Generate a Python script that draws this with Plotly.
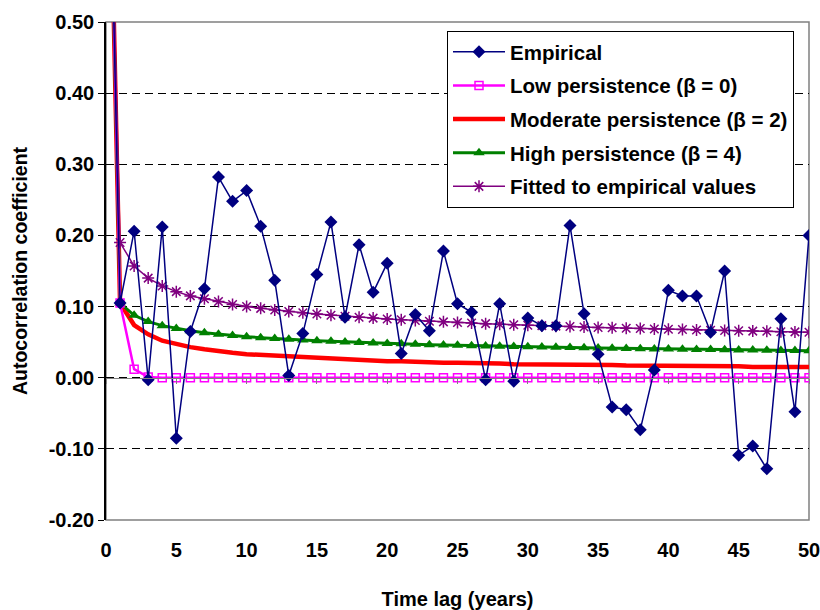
import plotly.graph_objects as go

lags = list(range(0, 51))

empirical = [1.0, 0.105, 0.206, -0.003, 0.212, -0.085, 0.065, 0.125, 0.282, 0.248,
             0.263, 0.213, 0.137, 0.003, 0.062, 0.145, 0.219, 0.085, 0.187, 0.120,
             0.161, 0.034, 0.089, 0.066, 0.178, 0.104, 0.092, -0.003, 0.104, -0.005,
             0.084, 0.073, 0.073, 0.214, 0.090, 0.033, -0.041, -0.045, -0.073, 0.011,
             0.123, 0.115, 0.115, 0.064, 0.150, -0.109, -0.096, -0.128, 0.083, -0.048,
             0.200]

low_persistence = [1.0, 0.105, 0.012, 0.001] + [0.0] * 47

moderate_persistence = [1.0, 0.105, 0.074, 0.061, 0.052, 0.047, 0.043, 0.040, 0.037, 0.035,
                        0.033, 0.032, 0.030, 0.029, 0.028, 0.027, 0.026, 0.025, 0.025, 0.024,
                        0.023, 0.023, 0.022, 0.022, 0.021, 0.021, 0.021, 0.020, 0.020, 0.019,
                        0.019, 0.019, 0.019, 0.018, 0.018, 0.018, 0.018, 0.017, 0.017, 0.017,
                        0.017, 0.016, 0.016, 0.016, 0.016, 0.016, 0.015, 0.015, 0.015, 0.015,
                        0.015]

high_persistence = [1.0, 0.105, 0.0877, 0.0789, 0.0732, 0.0691, 0.0659, 0.0633, 0.0612, 0.0593,
                    0.0577, 0.0563, 0.0550, 0.0539, 0.0529, 0.0519, 0.0511, 0.0503, 0.0495, 0.0488,
                    0.0482, 0.0476, 0.0470, 0.0465, 0.0460, 0.0455, 0.0450, 0.0446, 0.0442, 0.0438,
                    0.0434, 0.0430, 0.0427, 0.0423, 0.0420, 0.0417, 0.0414, 0.0411, 0.0408, 0.0405,
                    0.0402, 0.0400, 0.0397, 0.0395, 0.0393, 0.0390, 0.0388, 0.0386, 0.0384, 0.0382,
                    0.0380]

fitted = [1.0, 0.190, 0.157, 0.140, 0.129, 0.121, 0.115, 0.111, 0.107, 0.103,
          0.100, 0.0975, 0.0952, 0.0931, 0.0912, 0.0895, 0.0879, 0.0865, 0.0851, 0.0838,
          0.0826, 0.0815, 0.0805, 0.0795, 0.0785, 0.0777, 0.0768, 0.0760, 0.0752, 0.0745,
          0.0738, 0.0732, 0.0725, 0.0719, 0.0713, 0.0707, 0.0701, 0.0696, 0.0691, 0.0686,
          0.0681, 0.0677, 0.0672, 0.0668, 0.0663, 0.0659, 0.0655, 0.0652, 0.0647, 0.0644,
          0.0640]

y_ticks = [-0.2, -0.1, 0.0, 0.1, 0.2, 0.3, 0.4, 0.5]
y_tick_text = ["-0.20", "-0.10", "0.00", "0.10", "0.20", "0.30", "0.40", "0.50"]
x_ticks = [0, 5, 10, 15, 20, 25, 30, 35, 40, 45, 50]

FONT = "Liberation Sans, Arial, sans-serif"

fig = go.Figure()

fig.add_trace(go.Scatter(
    x=lags, y=moderate_persistence, name="Moderate persistence (β = 2)",
    mode="lines", line=dict(color="#FF0000", width=4.5),
    legendrank=3, legendgroup="c"))
fig.add_trace(go.Scatter(
    x=lags, y=high_persistence, name="High persistence (β = 4)",
    mode="lines+markers", line=dict(color="#008000", width=3),
    marker=dict(symbol="triangle-up", size=10, color="#008000"),
    legendrank=4, legendgroup="d"))
fig.add_trace(go.Scatter(
    x=lags, y=low_persistence, name="Low persistence (β = 0)",
    mode="lines+markers", line=dict(color="#FF00FF", width=2.5),
    marker=dict(symbol="square-open", size=8, color="#FF00FF", line=dict(width=1.5)),
    legendrank=2, legendgroup="b"))
fig.add_trace(go.Scatter(
    x=lags, y=fitted, name="Fitted to empirical values",
    mode="lines+markers", line=dict(color="#800080", width=1.5),
    marker=dict(symbol="asterisk-open", size=10, color="#800080", line=dict(width=1.5, color="#800080")),
    legendrank=5, legendgroup="e"))
fig.add_trace(go.Scatter(
    x=lags, y=empirical, name="Empirical",
    mode="lines+markers", line=dict(color="#000080", width=1.5),
    marker=dict(symbol="diamond", size=10, color="#000080"),
    legendrank=1, legendgroup="a"))
# carrier for the axis line drawn through y = 0
fig.add_trace(go.Scatter(
    x=lags, y=low_persistence, xaxis="x2", mode="none",
    showlegend=False, hoverinfo="skip"))

fig.update_layout(
    width=820, height=610,
    margin=dict(l=106, r=11, t=18, b=90),
    paper_bgcolor="white", plot_bgcolor="white",
    font=dict(family=FONT, size=18, color="black"),
    showlegend=True,
    legend=dict(
        x=(447 - 106) / 703, y=(520 - 27) / 502, xanchor="left", yanchor="top",
        bgcolor="white", bordercolor="black", borderwidth=1,
        font=dict(family=FONT, size=20.5, color="black", weight="bold"),
        tracegroupgap=4, itemwidth=52,
    ),
    xaxis=dict(
        range=[0, 50], tickvals=x_ticks, ticks="outside", ticklen=12,
        tickcolor="rgba(0,0,0,0)", showgrid=False, zeroline=False,
        showline=False, automargin=False, ticklabeloverflow="allow",
        tickfont=dict(family=FONT, size=20, weight="bold"),
        title=dict(text="<b>Time lag (years)</b>", font=dict(family=FONT, size=20), standoff=34),
    ),
    xaxis2=dict(
        range=[0, 50], overlaying="x", anchor="free", position=2 / 7,
        side="bottom", tickvals=x_ticks, ticks="outside", ticklen=5, tickcolor="#808080",
        showticklabels=False, showline=True, linecolor="#808080", linewidth=1,
        showgrid=False, zeroline=False,
    ),
    yaxis=dict(
        range=[-0.2, 0.5], tickvals=y_ticks, ticktext=y_tick_text,
        ticks="outside", ticklen=6, tickcolor="black",
        showline=True, linecolor="black", linewidth=1.5,
        showgrid=True, gridcolor="black", gridwidth=1, griddash="8px,5px",
        zeroline=False,
        tickfont=dict(family=FONT, size=20, weight="bold"),
        title=dict(text="<b>Autocorrelation coefficient</b>", font=dict(family=FONT, size=19.5), standoff=16),
    ),
    shapes=[dict(type="rect", xref="paper", yref="paper", x0=0, y0=0, x1=1, y1=1,
                 line=dict(color="#808080", width=1.5), layer="below")],
)

fig.write_html("out.html")
